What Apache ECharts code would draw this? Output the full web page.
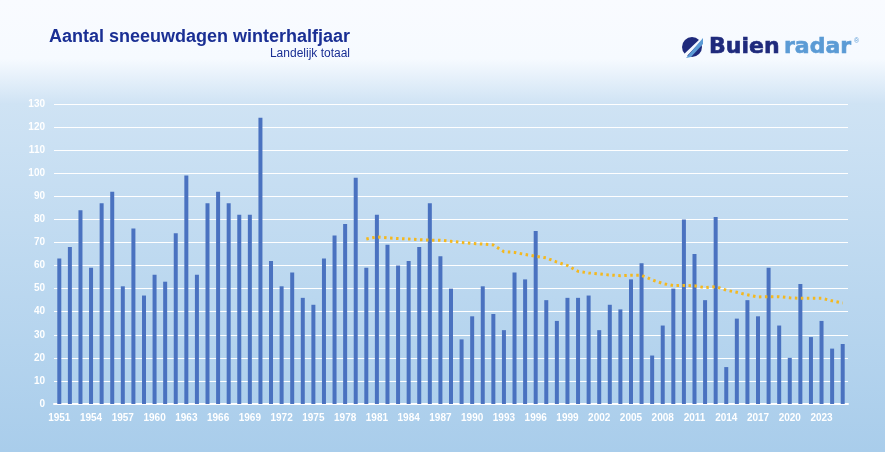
<!DOCTYPE html>
<html>
<head>
    <meta charset="utf-8">
    <title>Aantal sneeuwdagen winterhalfjaar</title>
    <style>html, body { margin: 0; padding: 0; }</style>
</head>
<body>
    <div id="main" style="width: 885px; height: 452px;"></div>
    <script src="https://cdn.jsdelivr.net/npm/echarts@6/dist/echarts.min.js"></script>
    <script type="text/javascript">
        const years = [];
        for (let y = 1951; y <= 2025; y++) years.push(String(y));

        const sneeuwdagen = [
            63, 68, 84, 59, 87, 92, 51, 76, 47, 56,
            53, 74, 99, 56, 87, 92, 87, 82, 82, 124,
            62, 51, 57, 46, 43, 63, 73, 78, 98, 59,
            82, 69, 60, 62, 68, 87, 64, 50, 28, 38,
            51, 39, 32, 57, 54, 75, 45, 36, 46, 46,
            47, 32, 43, 41, 54, 61, 21, 34, 50, 80,
            65, 45, 81, 16, 37, 45, 38, 59, 34, 20,
            52, 29, 36, 24, 26
        ];

        // 1951-1979 heeft geen lopend gemiddelde
        const gemiddeldeStart = new Array(29).fill(null);
        const gemiddelde = [
            71.5, 72.4, 72, 71.7, 71.5, 71.2, 71, 71, 70.5, 70,
            69.6, 69.3, 68.9, 66, 65.7, 64.8, 64, 63.3, 61.5, 60,
            57.5, 56.8, 56.4, 55.9, 55.6, 55.8, 55.8, 53.8, 52.2, 51.3,
            51.4, 51.2, 50.4, 50.9, 49.3, 48.4, 47.3, 46.4, 46.5, 46.5,
            46, 45.8, 45.8, 45.8, 44.7, 43.8
        ];

        var chartDom = document.getElementById('main');
        var myChart = echarts.init(chartDom);
        var labelFont = { color: '#ffffff', fontFamily: 'Liberation Sans', fontWeight: 'bold', fontSize: 10 };

        var option = {
            animation: false,
            backgroundColor: {
                type: 'linear', x: 0, y: 0, x2: 0, y2: 1,
                colorStops: [
                    { offset: 0, color: '#f9fbff' },
                    { offset: 0.13, color: '#f6faff' },
                    { offset: 0.23, color: '#cfe3f4' },
                    { offset: 1, color: '#a9cdeb' }
                ]
            },
            title: [
                {
                    text: 'Aantal sneeuwdagen winterhalfjaar',
                    left: 350, top: 28, textAlign: 'right', padding: 0,
                    textStyle: { color: '#1a2f94', fontFamily: 'Liberation Sans', fontWeight: 'bold', fontSize: 18 }
                },
                {
                    text: 'Landelijk totaal',
                    left: 350, top: 48, textAlign: 'right', padding: 0,
                    textStyle: { color: '#1a2f94', fontFamily: 'Liberation Sans', fontWeight: 'normal', fontSize: 12 }
                }
            ],
            grid: { left: 54, right: 37, top: 104, bottom: 48 },
            xAxis: {
                type: 'category',
                data: years,
                axisLine: { lineStyle: { color: '#ffffff', width: 2 } },
                axisTick: { show: false },
                axisLabel: Object.assign({ interval: 2, margin: 9 }, labelFont)
            },
            yAxis: {
                type: 'value',
                min: 0, max: 130, interval: 10,
                axisLine: { show: false },
                axisTick: { show: false },
                axisLabel: Object.assign({ margin: 9 }, labelFont),
                splitLine: { lineStyle: { color: '#ffffff', width: 1 } }
            },
            series: [
                {
                    type: 'bar',
                    data: sneeuwdagen,
                    barWidth: 4,
                    itemStyle: { color: '#4a72c0' }
                },
                {
                    type: 'line',
                    data: gemiddeldeStart.concat(gemiddelde),
                    showSymbol: false,
                    lineStyle: { color: '#f4b81f', width: 3, type: [2.5, 3.5] }
                }
            ],
            graphic: [
                { type: 'circle', shape: { cx: 692, cy: 47, r: 10 }, style: { fill: '#1f2a7c' } },
                { type: 'polygon', shape: { points: [[682, 56], [702, 37], [704, 38], [686, 57]] }, style: { fill: '#f6faff' } },
                { type: 'polygon', shape: { points: [[686, 58], [703, 38], [703, 44], [691, 57]] }, style: { fill: '#5b9bd5' } },
                { type: 'text', x: 709, y: 36, style: { text: 'Buien', fill: '#1f2a7c', stroke: '#1f2a7c', lineWidth: 0.6, font: 'bold 22px "DejaVu Sans"' } },
                { type: 'text', x: 784, y: 36, style: { text: 'radar', fill: '#5b9bd5', stroke: '#5b9bd5', lineWidth: 0.6, font: 'bold 22px "DejaVu Sans"' } },
                { type: 'text', x: 854, y: 38, style: { text: '®', fill: '#5b9bd5', font: '7px "Liberation Sans"' } }
            ]
        };

        myChart.setOption(option);
    </script>
</body>
</html>
